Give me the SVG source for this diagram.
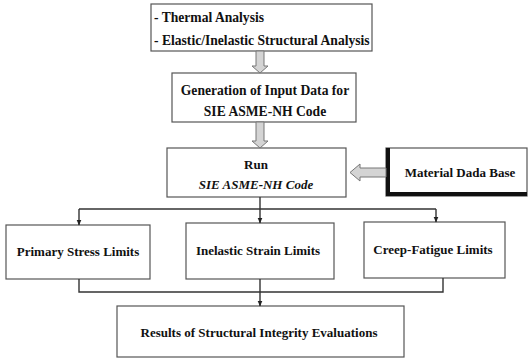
<svg xmlns="http://www.w3.org/2000/svg" width="529" height="359" viewBox="0 0 529 359">
  <defs>
    <marker id="tip" viewBox="0 0 6 6" refX="5.5" refY="3" markerWidth="6" markerHeight="6" markerUnits="userSpaceOnUse" orient="auto">
      <path d="M0,0.5 L6,3 L0,5.5 Z" fill="#222"/>
    </marker>
  </defs>
  <style>
    .box { fill: #fff; stroke: #555; stroke-width: 1.2; }
    .lbl { font-family: "Liberation Serif", "Times New Roman", serif; font-weight: bold; font-size: 13px; fill: #111; }
    .big { font-size: 13.6px; }
    .mid { text-anchor: middle; }
    .it { font-style: italic; }
    .wire { fill: none; stroke: #333; stroke-width: 1.4; }
    .hollow { fill: #d4d4d4; stroke: #777; stroke-width: 1; }
  </style>
  <rect width="529" height="359" fill="#fff"/>

  <g id="analysis">
    <rect class="box" x="151" y="4" width="221" height="47"/>
    <text class="lbl big" x="154" y="22">- Thermal Analysis</text>
    <text class="lbl big" x="154" y="45">- Elastic/Inelastic Structural Analysis</text>
  </g>

  <g id="input-data">
    <rect class="box" x="172" y="73" width="184" height="49"/>
    <text class="lbl big mid" x="265" y="95">Generation of Input Data for</text>
    <text class="lbl big mid" x="265" y="116">SIE ASME-NH Code</text>
  </g>

  <g id="run">
    <rect class="box" x="167" y="148" width="179" height="49"/>
    <text class="lbl mid" x="256" y="169">Run</text>
    <text class="lbl mid it" x="256" y="189">SIE ASME-NH Code</text>
  </g>

  <g id="material">
    <rect class="box" x="386" y="148" width="141" height="48" stroke-width="2"/>
    <path d="M388,148 V194 H527" fill="none" stroke="#111" stroke-width="4"/>
    <text class="lbl mid" x="460" y="177">Material Dada Base</text>
  </g>

  <g id="primary">
    <rect class="box" x="6" y="225" width="144" height="54"/>
    <text class="lbl mid" x="78" y="256">Primary Stress Limits</text>
  </g>

  <g id="inelastic">
    <rect class="box" x="186" y="223" width="148" height="56"/>
    <text class="lbl mid" x="258" y="255">Inelastic Strain Limits</text>
  </g>

  <g id="creep">
    <rect class="box" x="364" y="222" width="141" height="56"/>
    <text class="lbl mid" x="433" y="254">Creep-Fatigue Limits</text>
  </g>

  <g id="results">
    <rect class="box" x="117" y="306" width="287" height="51"/>
    <text class="lbl mid" x="259" y="337">Results of Structural Integrity Evaluations</text>
  </g>

  <g id="connectors">
    <!-- hollow block arrows -->
    <path class="hollow" d="M256,51 H264 V66 H268 L260,73 L252,66 H256 Z"/>
    <path class="hollow" d="M256,122 H264 V141 H268 L260,148 L252,141 H256 Z"/>
    <path class="hollow" d="M386,168 V177 H360 V181 L350,172.5 L360,164 V168 Z"/>
    <!-- fan-out to the three limit checks -->
    <path class="wire" d="M260,197 V209"/>
    <path class="wire" d="M79,209 H436"/>
    <path class="wire" d="M79,209 V225" marker-end="url(#tip)"/>
    <path class="wire" d="M260,209 V223" marker-end="url(#tip)"/>
    <path class="wire" d="M436,209 V222" marker-end="url(#tip)"/>
    <!-- merge into the results box -->
    <path class="wire" d="M79,279 V292 H443 V278"/>
    <path class="wire" d="M260,279 V292"/>
    <path class="wire" d="M260,292 V306" marker-end="url(#tip)"/>
  </g>
</svg>
